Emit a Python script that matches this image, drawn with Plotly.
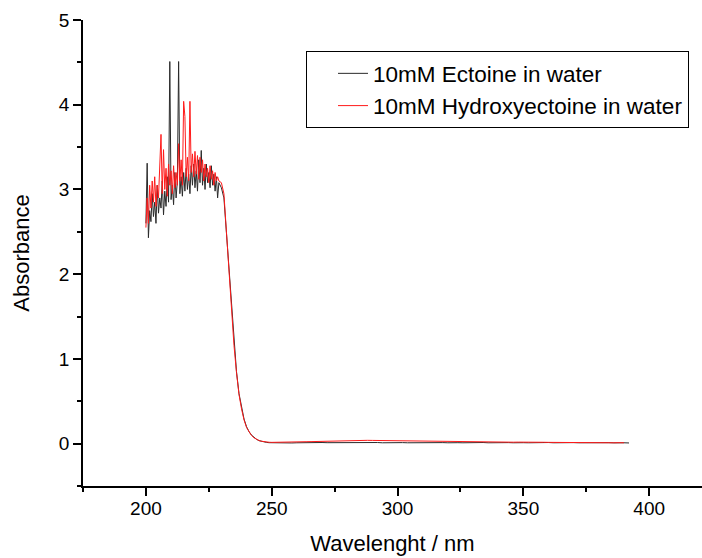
import numpy as np
import plotly.graph_objects as go

# wavelength grids (nm)
wl_noisy = np.arange(200.0, 229.5, 0.5)
wl_edge = np.arange(230, 251, 1)
wl_base_ect = np.arange(252, 393, 2)
wl_base_hyd = np.arange(252, 391, 2)

# 10mM Ectoine in water - absorbance
ect_noisy = [2.60, 3.31, 2.43, 2.75, 2.62, 2.95, 2.68, 2.85, 2.60, 3.05,
             2.72, 2.90, 2.78, 3.10, 2.70, 2.98, 2.80, 3.15, 2.85, 4.51,
             2.88, 3.05, 2.82, 3.20, 2.90, 3.10, 4.51, 2.95, 3.15, 2.92,
             3.20, 2.98, 3.25, 3.00, 3.18, 2.95, 3.28, 3.05, 3.30, 3.02,
             3.22, 2.98, 3.35, 3.08, 3.46, 3.05, 3.25, 3.00, 3.30, 3.08,
             3.20, 3.02, 3.28, 3.05, 3.18, 2.98, 3.15, 2.90, 3.08]
ect_edge = [3.02, 2.90, 2.48, 2.04, 1.60, 1.17, 0.85, 0.59, 0.42, 0.29,
            0.20, 0.14, 0.10, 0.07, 0.05, 0.035, 0.026, 0.019, 0.014, 0.011, 0.010]
ect_base = [0.010, 0.009, 0.011, 0.008, 0.010, 0.012, 0.009, 0.011, 0.010, 0.013,
            0.011, 0.012, 0.010, 0.013, 0.012, 0.011, 0.013, 0.010, 0.012, 0.011,
            0.013, 0.010, 0.012, 0.011, 0.009, 0.012, 0.010, 0.011, 0.013, 0.010,
            0.012, 0.009, 0.011, 0.012, 0.010, 0.013, 0.011, 0.010, 0.012, 0.009,
            0.011, 0.013, 0.010, 0.012, 0.011, 0.009, 0.012, 0.010, 0.013, 0.011,
            0.010, 0.012, 0.009, 0.011, 0.013, 0.010, 0.012, 0.011, 0.009, 0.012,
            0.010, 0.011, 0.013, 0.009, 0.012, 0.010, 0.011, 0.009, 0.012, 0.010,
            0.008]

# 10mM Hydroxyectoine in water
hyd_noisy = [2.55, 2.90, 2.60, 3.05, 2.78, 3.10, 2.85, 3.15, 2.80, 3.05,
             2.90, 3.20, 3.65, 2.95, 3.47, 3.00, 3.25, 2.92, 3.30, 3.05,
             3.22, 2.95, 3.28, 3.02, 3.20, 3.05, 3.54, 3.10, 3.35, 3.05,
             4.04, 3.86, 3.15, 3.38, 3.10, 4.04, 3.20, 3.42, 3.15, 3.45,
             3.18, 3.40, 3.12, 3.38, 3.20, 3.35, 3.10, 3.30, 3.15, 3.25,
             3.08, 3.28, 3.12, 3.22, 3.05, 3.20, 3.10, 3.15, 3.10]
hyd_edge = [3.08, 2.95, 2.50, 2.05, 1.60, 1.16, 0.84, 0.58, 0.41, 0.28,
            0.19, 0.135, 0.095, 0.068, 0.05, 0.036, 0.028, 0.022, 0.018, 0.016, 0.015]
hyd_base = [0.015, 0.016, 0.017, 0.018, 0.020, 0.021, 0.023, 0.024, 0.026, 0.028,
            0.030, 0.031, 0.033, 0.034, 0.036, 0.037, 0.038, 0.038, 0.039, 0.038,
            0.037, 0.036, 0.035, 0.034, 0.032, 0.031, 0.030, 0.029, 0.028, 0.027,
            0.026, 0.025, 0.025, 0.024, 0.023, 0.023, 0.022, 0.022, 0.021, 0.021,
            0.020, 0.021, 0.019, 0.020, 0.018, 0.019, 0.018, 0.017, 0.018, 0.016,
            0.017, 0.016, 0.015, 0.016, 0.015, 0.014, 0.015, 0.014, 0.013, 0.014,
            0.013, 0.012, 0.013, 0.012, 0.011, 0.012, 0.011, 0.010, 0.011, 0.010]

x_ticks = [200, 250, 300, 350, 400]
y_ticks = [0, 1, 2, 3, 4, 5]

FONT = "Arial, Liberation Sans, sans-serif"

fig = go.Figure()
fig.add_trace(go.Scatter(
    x=np.concatenate([wl_noisy, wl_edge, wl_base_ect]),
    y=ect_noisy + ect_edge + ect_base,
    mode="lines", name="10mM Ectoine in water",
    line=dict(color="#2a2a2a", width=1)))
fig.add_trace(go.Scatter(
    x=np.concatenate([wl_noisy, wl_edge, wl_base_hyd]),
    y=hyd_noisy + hyd_edge + hyd_base,
    mode="lines", name="10mM Hydroxyectoine in water",
    line=dict(color="#ff1a1a", width=1)))

axis_common = dict(showline=True, linecolor="black", linewidth=1.6, mirror=False,
                   showgrid=False, zeroline=False, ticks="outside", ticklen=8,
                   tickwidth=1.6, tickcolor="black", automargin=False,
                   tickfont=dict(family=FONT, size=19, color="black"))

fig.update_xaxes(range=[175, 421], tickvals=x_ticks, ticklabelstandoff=-4,
                 minor=dict(tickvals=[175, 225, 275, 325, 375], ticklen=4, tickwidth=1.6,
                            tickcolor="black", ticks="outside"),
                 title=dict(text="Wavelenght / nm", font=dict(family=FONT, size=22, color="black"),
                            standoff=18),
                 **axis_common)
fig.update_yaxes(range=[-0.5, 5], tickvals=y_ticks,
                 minor=dict(tickvals=[-0.5, 0.5, 1.5, 2.5, 3.5, 4.5], ticklen=4, tickwidth=1.6,
                            tickcolor="black", ticks="outside"),
                 title=dict(text="Absorbance", font=dict(family=FONT, size=22, color="black"),
                            standoff=23),
                 **axis_common)

fig.update_layout(
    width=702, height=558,
    margin=dict(l=83, r=0, t=20, b=72),
    paper_bgcolor="white", plot_bgcolor="white",
    showlegend=True,
    legend=dict(x=0.979, y=0.933, xanchor="right", yanchor="top",
                bordercolor="black", borderwidth=1, bgcolor="white",
                font=dict(family=FONT, size=22.5, color="black"),
                indentation=26, traceorder="normal"),
)

# drop the page's default body margin so the figure sits at the window corner
fig.write_html("out.html", config={"displayModeBar": False},
               post_script="document.body.style.margin='0';")
